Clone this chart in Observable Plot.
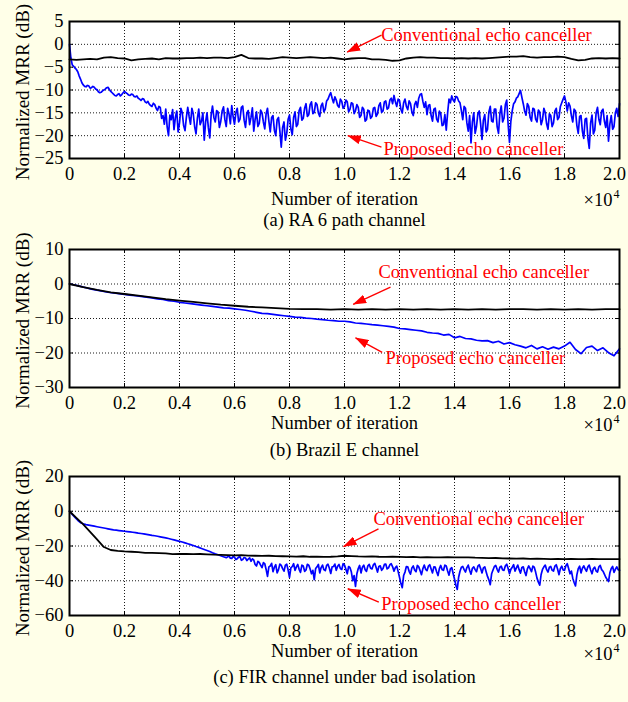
<!DOCTYPE html>
<html><head><meta charset="utf-8">
<script src="https://cdn.jsdelivr.net/npm/d3@7"></script>
<script src="https://cdn.jsdelivr.net/npm/@observablehq/plot@0.6"></script>
<style>
html,body{margin:0;padding:0;background:#FFFFE8;}
#chart{width:628px;height:702px;overflow:hidden;}
#chart svg{display:block;}
</style></head><body><div id="chart"></div>
<script>
// ---- shared axes ----
const xTicks = [0,2000,4000,6000,8000,10000,12000,14000,16000,18000,20000];
const xTickLabels = ["0","0.2","0.4","0.6","0.8","1.0","1.2","1.4","1.6","1.8","2.0"];
const aYTicks = [5,0,-5,-10,-15,-20,-25];
const bYTicks = [10,0,-10,-20,-30];
const cYTicks = [20,0,-20,-40,-60];

// ---- (a) RA 6 path channel ----  (blue: every 50 iterations from 0; black: every 250)
const aBlue = [
0,-3.0,-4.5,-4.8,-5.2,-5.5,-6.0,-6.9,-7.6,-8.4,
-8.9,-9.2,-9.3,-9.0,-9.1,-9.6,-9.5,-9.2,-9.4,-9.8,
-9.9,-10.4,-10.6,-10.5,-10.2,-10.0,-9.8,-9.5,-9.4,-9.9,
-10.3,-10.6,-10.9,-11.2,-11.3,-11.0,-10.8,-11.3,-11.0,-10.6,
-10.3,-10.6,-10.8,-11.1,-11.2,-10.9,-11.0,-11.4,-11.5,-11.3,
-11.8,-12.0,-12.3,-11.9,-12.0,-12.6,-12.8,-12.5,-13.1,-13.4,
-13.6,-12.9,-13.2,-14.0,-14.5,-13.6,-13.8,-16.2,-15.6,-17.5,
-14.2,-18.0,-20.0,-15.5,-16.5,-14.3,-18.7,-16.0,-14.6,-19.2,
-17.2,-14.0,-15.0,-17.8,-18.9,-16.0,-13.8,-15.8,-17.5,-14.0,
-15.2,-18.0,-19.6,-16.2,-14.2,-17.6,-16.8,-15.0,-21.0,-17.0,
-15.0,-18.3,-20.5,-15.5,-13.5,-16.0,-17.0,-14.5,-14.8,-18.2,
-16.9,-14.6,-13.7,-16.5,-18.0,-14.0,-15.2,-17.4,-13.4,-15.8,
-17.5,-15.0,-14.0,-17.0,-16.4,-13.8,-13.5,-16.6,-18.2,-15.0,
-14.5,-17.6,-16.0,-13.9,-19.0,-16.4,-14.8,-18.0,-17.3,-14.4,
-15.0,-17.0,-18.5,-15.2,-14.0,-16.8,-19.2,-16.0,-15.6,-18.8,
-20.0,-16.5,-16.0,-19.0,-22.5,-18.2,-17.0,-21.0,-19.5,-16.4,
-15.5,-18.5,-19.8,-16.0,-14.8,-18.0,-17.5,-14.5,-13.8,-16.6,
-16.2,-14.0,-13.0,-15.8,-15.4,-13.2,-12.6,-15.2,-14.9,-12.8,
-13.2,-15.0,-15.8,-13.5,-12.9,-14.8,-14.2,-12.4,-12.0,-11.2,
-10.6,-11.8,-12.8,-11.5,-12.2,-13.4,-13.8,-12.0,-12.5,-14.0,
-13.6,-12.2,-12.6,-14.8,-14.2,-12.8,-13.0,-15.2,-14.5,-13.2,
-13.8,-16.0,-15.6,-13.8,-14.2,-16.8,-16.5,-14.4,-14.6,-16.2,
-15.8,-14.0,-13.8,-15.8,-15.2,-13.4,-12.8,-14.9,-14.6,-12.6,
-12.4,-14.2,-13.9,-12.2,-11.8,-13.0,-11.2,-12.6,-13.6,-12.0,
-12.3,-14.2,-15.0,-12.8,-12.0,-13.6,-14.3,-12.4,-13.0,-14.8,
-15.6,-13.2,-12.5,-13.8,-11.8,-11.0,-10.8,-12.5,-13.8,-12.6,
-15.4,-13.4,-13.2,-15.6,-16.8,-14.2,-14.0,-16.4,-17.0,-14.6,
-15.2,-17.8,-17.6,-15.4,-18.8,-15.0,-12.0,-12.8,-11.3,-12.2,
-12.6,-11.4,-11.6,-12.4,-12.8,-14.5,-16.5,-13.6,-14.0,-17.2,
-19.0,-15.6,-21.6,-17.0,-15.0,-19.5,-18.0,-15.2,-14.6,-17.4,
-20.8,-16.6,-15.4,-19.2,-18.6,-14.8,-13.6,-16.8,-17.0,-14.2,
-14.2,-18.0,-19.5,-15.2,-13.5,-17.0,-16.2,-13.2,-12.2,-17.5,
-21.5,-16.8,-14.5,-13.0,-12.6,-11.8,-11.5,-10.8,-10.1,-11.6,
-13.0,-14.6,-15.5,-13.0,-13.6,-16.0,-16.8,-14.0,-14.2,-16.4,
-17.0,-14.4,-14.8,-17.6,-16.5,-14.0,-15.0,-17.4,-18.6,-15.2,
-15.6,-18.0,-17.2,-14.6,-14.0,-16.5,-16.0,-13.6,-12.8,-12.0,
-11.3,-12.6,-14.6,-12.8,-13.5,-15.6,-17.0,-14.2,-14.6,-17.8,
-19.5,-15.8,-15.6,-19.0,-20.6,-16.4,-16.2,-20.5,-22.8,-17.2,
-15.5,-19.6,-18.8,-15.0,-13.8,-16.4,-17.6,-14.6,-14.2,-16.8,
-18.2,-15.6,-21.2,-17.4,-15.6,-18.6,-18.0,-15.0,-14.0,-15.8,
-13.0];
const aBlack = [
-3.3,-3.4,-3.3,-3.2,-3.3,-2.9,-2.8,-3.0,-3.1,-3.5,
-3.3,-3.2,-3.1,-3.3,-3.0,-3.1,-3.1,-3.0,-3.0,-2.9,
-3.0,-2.9,-2.9,-3.0,-2.8,-2.3,-3.0,-3.1,-3.1,-3.2,
-3.0,-2.8,-2.9,-3.0,-2.9,-2.8,-2.9,-3.0,-2.9,-3.1,
-3.3,-3.1,-3.0,-3.0,-3.3,-3.3,-3.4,-3.6,-3.5,-3.1,
-2.9,-2.8,-2.9,-2.9,-3.0,-3.0,-3.1,-3.0,-3.1,-3.0,
-3.1,-3.0,-2.9,-2.8,-2.7,-2.7,-2.6,-2.8,-2.9,-2.8,
-2.8,-2.7,-2.8,-3.2,-3.5,-3.4,-3.1,-3.0,-3.1,-3.0,
-3.1];
const aNotes = [
  {label:"Conventional echo canceller", tx:11333, ty:2.1, x1:11345, y1:2.0, x2:10097, y2:-1.7},
  {label:"Proposed echo canceller", tx:11420, ty:-23.0, x1:11345, y1:-22.5, x2:10120, y2:-20.0}
];

// ---- (b) Brazil E channel ----  (blue: every 200; black: every 500)
const bBlue = [
0,-0.3,-0.7,-1.1,-1.5,-1.8,-2.1,-2.4,-2.6,-2.8,
-3.0,-3.2,-3.4,-3.6,-3.8,-4.0,-4.3,-4.5,-4.8,-5.0,
-5.3,-5.5,-5.7,-5.9,-6.1,-6.3,-6.5,-6.7,-6.9,-7.0,
-7.2,-7.4,-7.6,-7.9,-8.2,-8.5,-8.6,-8.8,-9.0,-9.2,
-9.4,-9.6,-9.7,-9.9,-10.0,-10.2,-10.3,-10.5,-10.6,-10.8,
-10.8,-11.0,-11.3,-11.4,-11.6,-11.8,-11.9,-12.1,-12.3,-12.5,
-12.9,-13.0,-13.2,-13.4,-13.6,-14.0,-14.2,-14.3,-14.8,-14.6,
-15.6,-15.2,-15.8,-15.9,-16.3,-16.5,-16.4,-17.0,-16.6,-17.4,
-17.0,-17.6,-18.0,-18.5,-17.8,-18.8,-18.2,-18.9,-18.3,-18.8,
-18.0,-16.9,-19.0,-20.2,-18.4,-18.0,-19.3,-18.5,-19.9,-20.8,
-18.8];
const bBlack = [
0,-0.9,-1.7,-2.4,-2.9,-3.4,-3.9,-4.4,-4.8,-5.2,
-5.6,-6.0,-6.3,-6.6,-6.8,-7.0,-7.2,-7.3,-7.3,-7.4,
-7.3,-7.4,-7.3,-7.4,-7.3,-7.4,-7.3,-7.4,-7.3,-7.4,
-7.3,-7.4,-7.3,-7.3,-7.4,-7.3,-7.4,-7.3,-7.4,-7.3,
-7.3];
const bNotes = [
  {label:"Conventional echo canceller", tx:11236, ty:3.4, x1:11672, y1:-0.9, x2:10316, y2:-5.9},
  {label:"Proposed echo canceller", tx:11490, ty:-21.5, x1:11370, y1:-19.8, x2:10400, y2:-15.6}
];

// ---- (c) FIR channel under bad isolation ----
// blue: every 100 from 0 to 5700, then every 50 from 5800; black: every 250
const cBlueEarly = [
0,-1.8,-3.5,-5.2,-6.6,-7.2,-7.7,-8.0,-8.3,-8.6,
-8.9,-9.2,-9.5,-9.8,-10.1,-10.4,-10.7,-10.9,-11.1,-11.3,
-11.5,-11.7,-11.9,-12.1,-12.3,-12.6,-12.8,-13.0,-13.3,-13.6,
-13.9,-14.1,-14.4,-14.7,-15.0,-15.3,-15.7,-16.1,-16.5,-16.9,
-17.3,-17.7,-18.2,-18.7,-19.2,-19.7,-20.3,-20.8,-21.4,-22.0,
-22.6,-23.2,-23.9,-24.5,-25.0,-25.6,-26.2,-26.7];
const cBlueLate = [
-25.8,-27.0,-27.2,-26.0,-26.5,-27.8,-27.3,-26.4,-26.2,-28.2,
-27.8,-26.6,-26.9,-28.4,-27.5,-26.8,-28.8,-27.4,-28.0,-30.6,
-31.5,-28.8,-29.5,-31.0,-32.5,-29.6,-30.2,-33.5,-37.5,-32.0,
-31.5,-30.0,-34.8,-32.2,-30.8,-35.5,-33.6,-30.4,-31.2,-33.0,
-34.5,-31.0,-30.5,-33.8,-38.0,-32.6,-31.8,-30.2,-34.0,-32.0,
-30.6,-33.4,-35.2,-31.0,-31.5,-34.6,-33.8,-30.5,-31.0,-33.2,
-36.0,-34.0,-39.4,-33.0,-32.0,-30.6,-35.5,-32.4,-31.0,-33.6,
-34.2,-31.2,-30.5,-32.8,-35.8,-32.0,-31.8,-30.4,-34.0,-31.6,
-30.6,-33.0,-33.5,-30.2,-31.0,-33.4,-36.0,-31.8,-32.5,-35.0,
-40.0,-37.0,-43.3,-36.0,-33.0,-31.2,-35.5,-32.2,-31.0,-33.6,
-34.6,-31.4,-30.6,-32.8,-33.2,-30.8,-30.0,-32.4,-35.0,-31.8,
-31.4,-34.0,-33.0,-30.6,-30.4,-33.2,-32.6,-30.8,-30.2,-32.0,
-34.5,-32.4,-31.6,-34.6,-38.0,-41.5,-44.0,-37.0,-35.0,-31.8,
-32.0,-34.6,-36.2,-32.6,-31.5,-33.8,-34.8,-31.2,-32.0,-34.2,
-36.5,-33.0,-31.0,-33.4,-34.2,-31.6,-30.8,-33.2,-35.5,-32.0,
-32.2,-34.8,-37.0,-33.0,-31.2,-33.6,-34.0,-31.0,-31.5,-34.4,
-36.8,-33.2,-32.4,-35.8,-39.0,-42.6,-45.0,-38.0,-34.5,-32.2,
-31.8,-33.6,-35.0,-32.4,-31.0,-34.0,-36.2,-32.8,-32.0,-33.6,
-34.8,-31.6,-30.8,-33.0,-35.5,-32.6,-32.0,-34.8,-37.5,-39.5,
-42.3,-36.0,-33.8,-31.8,-31.2,-33.4,-35.0,-32.2,-31.6,-33.8,
-34.0,-31.4,-30.5,-33.0,-36.0,-33.4,-32.2,-30.8,-34.5,-32.6,
-31.0,-33.6,-35.6,-32.4,-32.0,-34.8,-37.0,-33.2,-31.5,-33.0,
-34.8,-31.6,-32.2,-35.0,-38.5,-40.8,-42.5,-36.4,-33.5,-32.0,
-31.0,-33.6,-35.0,-32.2,-31.8,-34.0,-34.4,-31.6,-30.8,-33.4,
-36.5,-33.0,-31.6,-33.8,-34.0,-31.4,-30.2,-33.0,-36.0,-34.4,
-38.5,-41.0,-43.0,-36.6,-33.0,-31.6,-35.5,-32.8,-31.4,-33.2,
-34.6,-32.0,-31.0,-33.8,-36.0,-33.0,-32.2,-34.4,-35.0,-32.0,
-31.2,-33.6,-34.5,-36.2,-38.0,-39.2,-40.5,-35.4,-33.0,-31.8,
-35.2,-33.4,-32.0,-33.6,
-34.0];
const cBlack = [
0,-3.8,-7.6,-11.9,-16.2,-20.6,-22.3,-22.8,-23.1,-23.3,
-23.5,-23.9,-24.0,-24.1,-24.3,-24.7,-24.6,-24.5,-24.7,-24.6,
-24.8,-25.0,-25.1,-25.2,-25.4,-25.3,-25.5,-25.6,-25.7,-25.6,
-25.8,-25.9,-26.0,-26.1,-25.9,-26.2,-26.1,-26.3,-26.2,-26.0,
-25.6,-25.8,-26.0,-26.1,-26.0,-26.2,-26.3,-26.2,-26.3,-26.4,
-26.3,-26.5,-26.4,-26.5,-26.6,-26.4,-26.5,-26.6,-26.5,-26.7,
-26.8,-27.0,-26.9,-27.1,-27.2,-27.3,-27.2,-27.4,-27.3,-27.4,
-27.5,-27.4,-27.5,-27.4,-27.6,-27.5,-27.4,-27.6,-27.5,-27.6,
-27.5];
const cNotes = [
  {label:"Conventional echo canceller", tx:11055, ty:-4.3, x1:11236, y1:-10.1, x2:9963, y2:-20.3},
  {label:"Proposed echo canceller", tx:11334, ty:-53.7, x1:11247, y1:-52.3, x2:10120, y2:-44.6}
];

// ---- helpers ----
const seq = (values, start, step) => values.map((v, i) => ({x: start + i * step, y: v}));

const FONT = "'Liberation Serif','Times New Roman',Times,serif";
const W = 628, ML = 69, MR = 9;

function arrowMarker(color) {
  const ns = "http://www.w3.org/2000/svg";
  const m = document.createElementNS(ns, "marker");
  m.setAttribute("viewBox", "-13 -4.5 14 9");
  m.setAttribute("markerWidth", "14");
  m.setAttribute("markerHeight", "9");
  m.setAttribute("markerUnits", "userSpaceOnUse");
  m.setAttribute("orient", "auto");
  m.setAttribute("refX", "0");
  m.setAttribute("refY", "0");
  const p = document.createElementNS(ns, "path");
  p.setAttribute("d", "M-13,-4.5L0.5,0L-13,4.5Z");
  p.setAttribute("fill", color);
  p.setAttribute("stroke", "none");
  m.appendChild(p);
  return m;
}

function panel(cfg, customMarker) {
  const {blueData, blackData, yTicks, notes, caption, height, marginTop, marginBottom, labelDy, expDy, captionDy} = cfg;
  const plotH = height - marginTop - marginBottom;
  const plotW = W - ML - MR;
  const grid = {stroke: "#000", strokeWidth: 0.9, strokeDasharray: "1,2"};
  const red = "#ff0000";
  const arrowMark = customMarker
    ? Plot.link(notes, {x1: "x1", y1: "y1", x2: "x2", y2: "y2", stroke: red, strokeWidth: 1.4, markerEnd: arrowMarker})
    : Plot.arrow(notes, {x1: "x1", y1: "y1", x2: "x2", y2: "y2", stroke: red, strokeWidth: 1.6, headLength: 12});
  return Plot.plot({
    width: W, height, marginLeft: ML, marginRight: MR, marginTop, marginBottom,
    x: {domain: [0, 20000]},
    y: {domain: [yTicks[yTicks.length - 1], yTicks[0]]},
    style: {background: "transparent", fontFamily: FONT, fontSize: "18.5px", color: "#000", overflow: "visible"},
    marks: [
      Plot.frame({fill: "white", stroke: null}),
      Plot.ruleX(xTicks.slice(1, -1), grid),
      Plot.ruleY(yTicks.slice(1, -1), grid),
      Plot.ruleX(xTicks, {stroke: "#000", strokeWidth: 1, insetTop: plotH - 4}),
      Plot.ruleX(xTicks, {stroke: "#000", strokeWidth: 1, insetBottom: plotH - 4}),
      Plot.ruleY(yTicks, {stroke: "#000", strokeWidth: 1, insetRight: plotW - 4}),
      Plot.ruleY(yTicks, {stroke: "#000", strokeWidth: 1, insetLeft: plotW - 4}),
      Plot.line(blueData, {x: "x", y: "y", stroke: "#0000ff", strokeWidth: 1.7, strokeLinejoin: "round"}),
      Plot.line(blackData, {x: "x", y: "y", stroke: "#000", strokeWidth: 1.8}),
      Plot.frame({stroke: "#000", strokeWidth: 2}),
      Plot.axisX({ticks: xTicks.slice(0, -1), tickSize: 0, tickPadding: 8, label: null,
        tickFormat: d => xTickLabels[xTicks.indexOf(d)]}),
      Plot.text([xTickLabels[xTickLabels.length - 1]], {text: d => d, frameAnchor: "bottom-right", dx: -5, dy: 8, lineAnchor: "top", textAnchor: "middle"}),
      Plot.axisY({ticks: yTicks, tickSize: 0, tickPadding: 6, label: null}),
      Plot.text(["Number of iteration"], {text: d => d, frameAnchor: "bottom", dy: labelDy, lineAnchor: "middle", textAnchor: "middle"}),
      Plot.text(["×10"], {text: d => d, frameAnchor: "bottom-right", dx: -7, dy: expDy, textAnchor: "end", lineAnchor: "bottom"}),
      Plot.text(["4"], {text: d => d, frameAnchor: "bottom-right", dx: 0, dy: expDy - 8, textAnchor: "end", lineAnchor: "bottom", fontSize: 12}),
      Plot.text([caption], {text: d => d, frameAnchor: "bottom", dy: captionDy, lineAnchor: "middle", textAnchor: "middle"}),
      Plot.text(["Normalized MRR (dB)"], {text: d => d, frameAnchor: "left", dx: -47, dy: 2, rotate: -90, lineAnchor: "middle", textAnchor: "middle", fontSize: 19}),
      Plot.text(notes, {x: "tx", y: "ty", text: "label", textAnchor: "start", lineAnchor: "middle", fill: red, fontSize: 18.5}),
      arrowMark
    ]
  });
}

const panels = [
  {blueData: seq(aBlue, 0, 50), blackData: seq(aBlack, 0, 250), yTicks: aYTicks, notes: aNotes,
   caption: "(a) RA 6 path channel", height: 230, marginTop: 21, marginBottom: 72, labelDy: 41, expDy: 47, captionDy: 62},
  {blueData: seq(bBlue, 0, 200), blackData: seq(bBlack, 0, 500), yTicks: bYTicks, notes: bNotes,
   caption: "(b) Brazil E channel", height: 230, marginTop: 19, marginBottom: 73, labelDy: 36, expDy: 43, captionDy: 63},
  {blueData: seq(cBlueEarly, 0, 100).concat(seq(cBlueLate, 5800, 50)), blackData: seq(cBlack, 0, 250), yTicks: cYTicks, notes: cNotes,
   caption: "(c) FIR channel under bad isolation", height: 242, marginTop: 16, marginBottom: 87, labelDy: 36, expDy: 44, captionDy: 62}
];

const root = document.getElementById("chart");
for (const cfg of panels) {
  let svg;
  try { svg = panel(cfg, true); } catch (e) { svg = panel(cfg, false); }
  root.appendChild(svg);
}
</script>
</body></html>
